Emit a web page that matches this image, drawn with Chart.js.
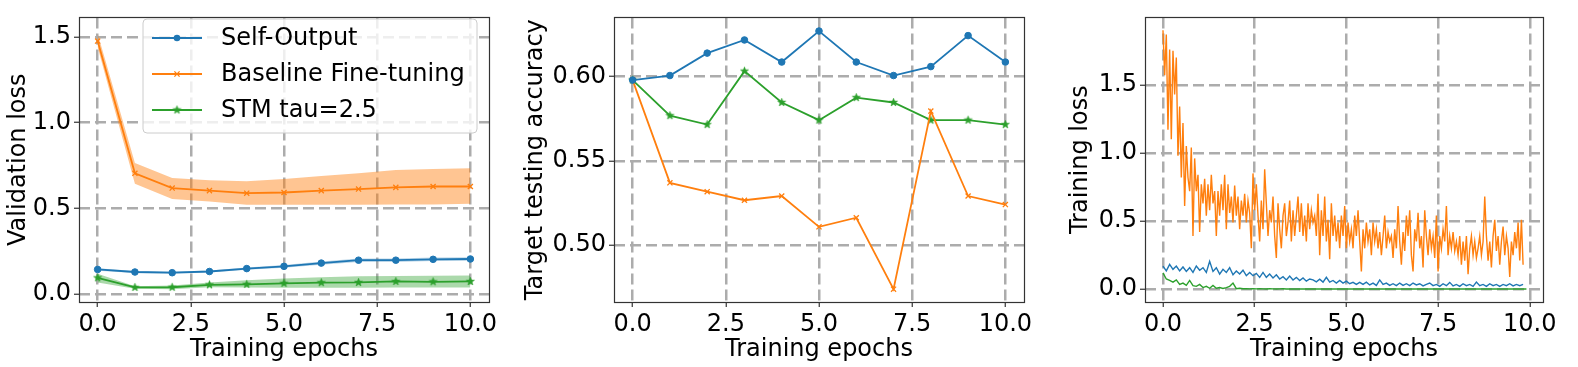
<!DOCTYPE html>
<html><head><meta charset="utf-8">
<script src="https://cdn.jsdelivr.net/npm/chart.js@4.4.1/dist/chart.umd.min.js"></script>
<style>
html,body{margin:0;padding:0;background:#fff;width:1578px;height:367px;overflow:hidden}
.p{position:absolute;top:0}
canvas{display:block}
</style></head><body>
<div class="p" style="left:0px"><canvas id="c1" width="520" height="367"></canvas></div>
<div class="p" style="left:520px"><canvas id="c2" width="520" height="367"></canvas></div>
<div class="p" style="left:1040px"><canvas id="c3" width="538" height="367"></canvas></div>
<script>
// ---------------- data ----------------
const epochs = [0, 1, 2, 3, 4, 5, 6, 7, 8, 9, 10];
const xTicks = [0, 2.5, 5, 7.5, 10];

const seriesNames = ['Self-Output', 'Baseline Fine-tuning', 'STM tau=2.5'];

// panel 1: validation loss (mean and band)
const valSelf   = [0.143, 0.128, 0.124, 0.131, 0.148, 0.161, 0.180, 0.197, 0.197, 0.202, 0.204];
const valSelfLo = [0.136, 0.122, 0.118, 0.125, 0.141, 0.153, 0.171, 0.187, 0.187, 0.192, 0.194];
const valSelfHi = [0.150, 0.134, 0.130, 0.137, 0.155, 0.169, 0.189, 0.207, 0.207, 0.212, 0.214];
const valBase   = [1.476, 0.704, 0.618, 0.603, 0.588, 0.592, 0.603, 0.612, 0.622, 0.627, 0.627];
const valBaseLo = [1.440, 0.643, 0.554, 0.539, 0.521, 0.521, 0.521, 0.521, 0.522, 0.522, 0.526];
const valBaseHi = [1.520, 0.764, 0.676, 0.663, 0.657, 0.671, 0.688, 0.704, 0.723, 0.729, 0.733];
const valStm    = [0.094, 0.038, 0.039, 0.053, 0.056, 0.062, 0.066, 0.067, 0.073, 0.071, 0.073];
const valStmLo  = [0.067, 0.030, 0.028, 0.039, 0.037, 0.036, 0.036, 0.036, 0.037, 0.037, 0.037];
const valStmHi  = [0.118, 0.045, 0.049, 0.067, 0.080, 0.090, 0.097, 0.103, 0.105, 0.106, 0.107];
const valYTicks = [0, 0.5, 1.0, 1.5];

// panel 2: target testing accuracy
const accSelf = [0.5979, 0.6006, 0.6139, 0.6217, 0.6086, 0.6270, 0.6086, 0.6006, 0.6059, 0.6243, 0.6086];
const accBase = [0.5979, 0.5369, 0.5317, 0.5266, 0.5291, 0.5108, 0.5162, 0.4738, 0.5795, 0.5291, 0.5240];
const accStm  = [0.5979, 0.5768, 0.5715, 0.6032, 0.5846, 0.5741, 0.5875, 0.5846, 0.5741, 0.5741, 0.5715];
const accYTicks = [0.50, 0.55, 0.60];

// panel 3: training loss (logged steps, epoch spacing per logged point)
const trainBaseStep = 0.04545;
const trainSmallStep = 0.0909;
const trainBase = [
 1.90,1.57,1.87,1.17,1.76,1.10,1.75,1.43,1.70,0.98,
 1.34,0.82,1.22,0.61,1.05,0.82,0.72,1.04,0.39,0.96,
 0.72,0.84,0.42,0.77,0.63,0.81,0.54,0.77,0.58,0.84,
 0.63,0.72,0.39,0.72,0.54,0.77,0.58,0.84,0.44,0.77,
 0.56,0.68,0.49,0.76,0.54,0.68,0.44,0.65,0.54,0.70,
 0.49,0.65,0.56,0.30,0.85,0.58,0.77,0.54,0.35,0.65,
 0.44,0.88,0.63,0.39,0.58,0.49,0.68,0.39,0.23,0.63,
 0.44,0.30,0.54,0.63,0.39,0.49,0.65,0.35,0.58,0.39,
 0.54,0.68,0.42,0.63,0.39,0.54,0.35,0.63,0.44,0.58,
 0.49,0.54,0.39,0.70,0.25,0.58,0.39,0.68,0.35,0.51,
 0.22,0.63,0.39,0.54,0.35,0.49,0.30,0.54,0.39,0.61,
 0.30,0.49,0.35,0.44,0.30,0.54,0.39,0.58,0.35,0.13,
 0.44,0.30,0.49,0.35,0.44,0.25,0.49,0.35,0.44,0.30,
 0.42,0.25,0.39,0.54,0.30,0.42,0.35,0.39,0.23,0.44,
 0.30,0.61,0.35,0.18,0.42,0.28,0.54,0.39,0.58,0.25,
 0.13,0.44,0.35,0.56,0.30,0.39,0.16,0.58,0.39,0.25,
 0.44,0.30,0.39,0.23,0.54,0.13,0.39,0.30,0.44,0.35,
 0.61,0.25,0.39,0.30,0.42,0.28,0.35,0.25,0.39,0.18,
 0.35,0.21,0.39,0.11,0.30,0.39,0.25,0.35,0.23,0.30,
 0.39,0.25,0.35,0.68,0.39,0.21,0.35,0.16,0.39,0.51,
 0.28,0.39,0.18,0.35,0.46,0.25,0.39,0.30,0.09,0.35,
 0.25,0.42,0.30,0.49,0.21,0.51,0.18];
const trainSelf = [
 0.170,0.134,0.182,0.146,0.170,0.134,0.163,0.130,0.158,0.123,
 0.170,0.139,0.158,0.123,0.205,0.130,0.158,0.111,0.146,0.123,
 0.158,0.106,0.134,0.111,0.139,0.099,0.123,0.099,0.116,0.087,
 0.123,0.087,0.111,0.083,0.106,0.075,0.092,0.068,0.097,0.068,
 0.087,0.064,0.083,0.059,0.075,0.068,0.054,0.073,0.052,0.087,
 0.052,0.064,0.045,0.064,0.045,0.059,0.040,0.050,0.035,0.050,
 0.035,0.052,0.031,0.045,0.028,0.068,0.035,0.045,0.028,0.040,
 0.026,0.045,0.028,0.040,0.026,0.045,0.031,0.040,0.024,0.035,
 0.045,0.026,0.035,0.021,0.040,0.026,0.050,0.024,0.035,0.021,
 0.040,0.026,0.035,0.021,0.052,0.026,0.035,0.021,0.040,0.026,
 0.035,0.021,0.035,0.026,0.040,0.024,0.035,0.026,0.035];
const trainStm = [
 0.120,0.075,0.064,0.052,0.068,0.035,0.045,0.028,0.064,0.026,
 0.021,0.035,0.012,0.021,0.007,0.028,0.007,0.012,0.005,0.012,
 0.021,0.045,0.004,0.007,0.003,0.004,0.002,0.003,0.002,0.004,
 0.002,0.001,0.003,0.002,0.001,0.002,0.003,0.001,0.002,0.001,
 0.002,0.001,0.001,0.002,0.001,0.001,0.002,0.001,0.001,0.001,
 0.002,0.001,0.001,0.001,0.001,0.002,0.001,0.001,0.001,0.001,
 0.001,0.001,0.002,0.001,0.001,0.001,0.001,0.001,0.001,0.001,
 0.001,0.001,0.001,0.001,0.002,0.001,0.001,0.001,0.001,0.001,
 0.001,0.001,0.001,0.001,0.001,0.001,0.001,0.001,0.001,0.001,
 0.001,0.001,0.001,0.001,0.001,0.001,0.001,0.001,0.001,0.001,
 0.001,0.001,0.001,0.001,0.001,0.001,0.001,0.001,0.001,0.001];
const trainYTicks = [0, 0.5, 1.0, 1.5];

// ---------------- styling ----------------
const C_BLUE = '#1f77b4', C_ORANGE = '#ff7f0e', C_GREEN = '#2ca02c';
const FONT = 24;
const GRID = '#acacac';
Chart.defaults.font.family = "'DejaVu Sans', sans-serif";
Chart.defaults.font.size = FONT;
Chart.defaults.color = '#000';
Chart.defaults.animation = false;

function makeStar(color, r) {
  const s = Math.ceil(r * 2 + 2);
  const c = document.createElement('canvas');
  c.width = s; c.height = s;
  const g = c.getContext('2d');
  g.fillStyle = color; g.strokeStyle = color; g.lineWidth = 0.6;
  g.beginPath();
  for (let k = 0; k < 10; k++) {
    const rr = k % 2 === 0 ? r : r * 0.42;
    const a = -Math.PI / 2 + k * Math.PI / 5;
    const px = s / 2 + rr * Math.cos(a), py = s / 2 + rr * Math.sin(a);
    if (k === 0) g.moveTo(px, py); else g.lineTo(px, py);
  }
  g.closePath(); g.fill(); g.stroke();
  return c;
}
const starImg = makeStar(C_GREEN, 4.2);

const pts = (xs, ys) => ys.map((y, i) => ({x: xs[i], y}));
const stepPts = (ys, step) => ys.map((y, i) => ({x: i * step, y}));

function lineDs(label, data, color, style) {
  const d = {label, data, borderColor: color, backgroundColor: color, borderWidth: 1.8,
    pointBackgroundColor: color, pointBorderColor: color, tension: 0, fill: false, isLegend: true, markStyle: style};
  if (style === 'circle') { d.pointStyle = 'circle'; d.pointRadius = 3.3; d.pointBorderWidth = 1; }
  if (style === 'x') { d.pointStyle = 'crossRot'; d.pointRadius = 3.6; d.pointBorderWidth = 1.3; }
  if (style === 'star') { d.pointStyle = starImg; d.pointRadius = 4.2; }
  return d;
}
function bandDs(lo, hi, rgba) {
  return [
    {data: pts(epochs, lo), borderWidth: 0, pointRadius: 0, fill: false, borderColor: 'rgba(0,0,0,0)'},
    {data: pts(epochs, hi), borderWidth: 0, pointRadius: 0, fill: '-1', backgroundColor: rgba, borderColor: 'rgba(0,0,0,0)'}
  ];
}

function xScale() {
  return {
    type: 'linear', min: -0.5, max: 10.5,
    afterBuildTicks: s => { s.ticks = xTicks.map(v => ({value: v})); },
    afterFit: s => { s.height = 65; },
    ticks: {callback: v => Number(v).toFixed(1), padding: 3, maxRotation: 0, autoSkip: false, color: '#000', font: {size: FONT}},
    grid: {color: GRID, lineWidth: 2.5, tickLength: 5, tickColor: '#333', tickWidth: 1.2},
    border: {display: false, dash: [11, 5]},
    title: {display: true, text: 'Training epochs', color: '#000', font: {size: FONT}, padding: {top: 0, bottom: 3}}
  };
}
function yScale(min, max, ticks, dec, title, width, tpad) {
  return {
    type: 'linear', min, max,
    afterBuildTicks: s => { s.ticks = ticks.map(v => ({value: v})); },
    afterFit: s => { s.width = width; },
    ticks: {callback: v => Number(v).toFixed(dec), padding: 3, autoSkip: false, color: '#000', font: {size: FONT}},
    grid: {color: GRID, lineWidth: 2.5, tickLength: 5, tickColor: '#333', tickWidth: 1.2},
    border: {display: false, dash: [11, 5]},
    title: {display: true, text: title, color: '#000', font: {size: FONT}, padding: {top: tpad, bottom: 0}}
  };
}

const framePlugin = {
  id: 'frame',
  afterDraw(chart) {
    const {ctx, chartArea: a} = chart;
    ctx.save();
    ctx.strokeStyle = '#333'; ctx.lineWidth = 1.2;
    ctx.strokeRect(Math.round(a.left) + 0.5, Math.round(a.top) + 0.5, Math.round(a.right - a.left), Math.round(a.bottom - a.top));
    ctx.restore();
  }
};

const legendPlugin = {
  id: 'boxLegend',
  afterDraw(chart) {
    const {ctx} = chart;
    const bx = 143, by = 19, bw = 334, bh = 114, rad = 4;
    ctx.save();
    ctx.beginPath();
    ctx.moveTo(bx + rad, by); ctx.lineTo(bx + bw - rad, by); ctx.quadraticCurveTo(bx + bw, by, bx + bw, by + rad);
    ctx.lineTo(bx + bw, by + bh - rad); ctx.quadraticCurveTo(bx + bw, by + bh, bx + bw - rad, by + bh);
    ctx.lineTo(bx + rad, by + bh); ctx.quadraticCurveTo(bx, by + bh, bx, by + bh - rad);
    ctx.lineTo(bx, by + rad); ctx.quadraticCurveTo(bx, by, bx + rad, by);
    ctx.closePath();
    ctx.fillStyle = 'rgba(255,255,255,0.8)'; ctx.fill();
    ctx.strokeStyle = '#cccccc'; ctx.lineWidth = 1; ctx.stroke();
    const items = chart.data.datasets.filter(d => d.isLegend);
    const rows = [38, 74, 110];
    items.forEach((d, i) => {
      const y = rows[i];
      ctx.strokeStyle = d.borderColor; ctx.lineWidth = 1.8;
      ctx.beginPath(); ctx.moveTo(152, y); ctx.lineTo(202, y); ctx.stroke();
      const mx = 177;
      if (d.markStyle === 'circle') {
        ctx.fillStyle = d.borderColor; ctx.beginPath(); ctx.arc(mx, y, 3.3, 0, Math.PI * 2); ctx.fill();
      } else if (d.markStyle === 'x') {
        ctx.lineWidth = 1.3; const r = 2.6;
        ctx.beginPath(); ctx.moveTo(mx - r, y - r); ctx.lineTo(mx + r, y + r); ctx.moveTo(mx + r, y - r); ctx.lineTo(mx - r, y + r); ctx.stroke();
      } else if (d.markStyle === 'star') {
        ctx.drawImage(starImg, mx - starImg.width / 2, y - starImg.height / 2);
      }
      ctx.fillStyle = '#000';
      ctx.font = FONT + "px 'DejaVu Sans', sans-serif";
      ctx.textBaseline = 'middle'; ctx.textAlign = 'left';
      ctx.fillText(d.label, 221, y + 1);
    });
    ctx.restore();
  }
};

const common = (padRight, yopts) => ({
  responsive: false, maintainAspectRatio: false, animation: false,
  layout: {padding: {top: 6, right: padRight, bottom: 0, left: 0}},
  plugins: {legend: {display: false}, tooltip: {enabled: false}},
  scales: {x: xScale(), y: yopts},
  elements: {line: {tension: 0}}
});

// ---------- chart 1 ----------
new Chart(document.getElementById('c1'), {
  type: 'line',
  data: {datasets: [
    lineDs(seriesNames[0], pts(epochs, valSelf), C_BLUE, 'circle'),
    lineDs(seriesNames[1], pts(epochs, valBase), C_ORANGE, 'x'),
    lineDs(seriesNames[2], pts(epochs, valStm), C_GREEN, 'star'),
    ...bandDs(valSelfLo, valSelfHi, 'rgba(31,119,180,0.3)'),
    ...bandDs(valBaseLo, valBaseHi, 'rgba(255,127,14,0.45)'),
    ...bandDs(valStmLo, valStmHi, 'rgba(44,160,44,0.4)')
  ]},
  options: common(31, yScale(-0.047, 1.614, valYTicks, 1, 'Validation loss', 79, 4)),
  plugins: [framePlugin, legendPlugin]
});

// ---------- chart 2 ----------
new Chart(document.getElementById('c2'), {
  type: 'line',
  data: {datasets: [
    lineDs(seriesNames[0], pts(epochs, accSelf), C_BLUE, 'circle'),
    lineDs(seriesNames[1], pts(epochs, accBase), C_ORANGE, 'x'),
    lineDs(seriesNames[2], pts(epochs, accStm), C_GREEN, 'star')
  ]},
  options: common(16, yScale(0.4662, 0.6351, accYTicks, 2, 'Target testing accuracy', 94, 1)),
  plugins: [framePlugin]
});

// ---------- chart 3 ----------
const thin = (label, data, color) => ({label, data, borderColor: color, borderWidth: 1.4, pointRadius: 0, fill: false, tension: 0});
new Chart(document.getElementById('c3'), {
  type: 'line',
  data: {datasets: [
    thin(seriesNames[2], stepPts(trainStm, trainSmallStep), C_GREEN),
    thin(seriesNames[0], stepPts(trainSelf, trainSmallStep), C_BLUE),
    thin(seriesNames[1], stepPts(trainBase, trainBaseStep), C_ORANGE)
  ]},
  options: (() => { const o = common(35, yScale(-0.094, 1.995, trainYTicks, 1, 'Training loss', 105, 26)); o.scales.x.min = -0.49; o.scales.x.max = 10.36; return o; })(),
  plugins: [framePlugin]
});
</script>
</body></html>
